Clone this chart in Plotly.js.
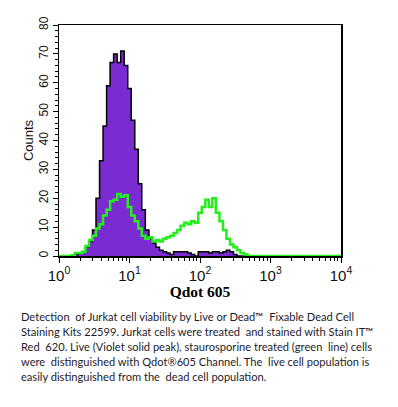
<!DOCTYPE html>
<html>
<head>
<meta charset="utf-8">
<script src="https://cdn.plot.ly/plotly-3.0.1.min.js"></script>
<style>html,body{margin:0;padding:0;background:#fff;}#chart{width:398px;height:407px;}</style>
</head>
<body>
<div id="chart"></div>
<script>
// Fluorescence channel (Qdot 605 intensity) bin positions
const channel = [1.00,1.12,1.26,1.41,1.58,1.78,2.00,2.24,2.51,2.82,3.16,3.55,3.98,4.47,5.01,5.62,6.31,7.08,7.94,8.91,
  10.0,11.2,12.6,14.1,15.8,17.8,20.0,22.4,25.1,28.2,31.6,35.5,39.8,44.7,50.1,56.2,63.1,70.8,79.4,89.1,
  100,112,126,141,158,178,200,224,251,282,316,355,398,447,501,562,631,708,794,891,1000,10000];
// Live cells (violet solid peak)
const liveCounts = [0,0,0,0,0,0.5,1,1.5,3,5,9,20,33,45,59,67,70,67,71,66,
  58,47,37,25,16,9,6,4.5,3,2,1.5,1,0.5,1.5,1.5,1.5,1.5,1,0.5,0,
  1.5,1.5,1.5,1,1.5,1.5,1,1.5,2,1.5,0.5,0,0,0,0,0,0,0,0,0,0,0];
// Staurosporine treated cells (green line)
const deadCounts = [0,0,0,0,0.3,1,1,1.5,3.5,5.5,7,9.5,11,14,16,19,19.5,21.5,20.5,21,
  17,14,12,9.5,7,6,6.5,5,5.5,5,6,6.5,7,8,9,10.5,11.5,11,12,11.5,
  15,17,19.5,17,20,15,12,9,6,4,3,2,1,0.5,0,0,0,0,0,0,0,0];

const xTickVals = [1,10,100,1000,10000];
const xTickText = ['10<sup>0</sup>','10<sup>1</sup>','10<sup>2</sup>','10<sup>3</sup>','10<sup>4</sup>'];
const xMinorVals = [2,3,4,5,6,7,8,9,20,30,40,50,60,70,80,90,200,300,400,500,600,700,800,900,2000,3000,4000,5000,6000,7000,8000,9000];

const captionLines = [
  'Detection  of Jurkat cell viability by Live or Dead\u2122  Fixable Dead Cell',
  'Staining Kits 22599. Jurkat cells were treated  and stained with Stain IT\u2122',
  'Red  620. Live (Violet solid peak), staurosporine treated (green  line) cells',
  'were  distinguished with Qdot\u00ae605 Channel. The  live cell population is',
  'easily distinguished from the  dead cell population.'
];

const traces = [
  {x: channel, y: liveCounts, type: 'scatter', mode: 'lines', line: {shape: 'hvh', color: '#000', width: 1.5},
   fill: 'tozeroy', fillcolor: '#7a2bd2', hoverinfo: 'skip'},
  {x: channel, y: deadCounts, type: 'scatter', mode: 'lines', line: {shape: 'hvh', color: '#22f01a', width: 2.5},
   hoverinfo: 'skip'}
];

const L = 59, R = 341, T = 25, B = 256;
const W = R - L, H = B - T;
const annotations = captionLines.map((t, i) => ({
  text: t, xref: 'paper', yref: 'paper', x: (19 - L) / W, y: (B - (316 + 15 * i)) / H,
  xanchor: 'left', yanchor: 'middle', showarrow: false, align: 'left',
  font: {family: 'Lato, sans-serif', size: 11.1, color: '#241c2c'}
}));

const layout = {
  width: 398, height: 407,
  margin: {l: L, r: 398 - R, t: T, b: 407 - B, pad: 0},
  paper_bgcolor: '#fff', plot_bgcolor: '#fff',
  showlegend: false,
  xaxis: {
    type: 'log', range: [0, 4], tickmode: 'array', tickvals: xTickVals, ticktext: xTickText,
    ticks: 'outside', ticklen: 5, tickwidth: 1, tickcolor: '#000',
    showline: true, linecolor: '#000', linewidth: 1.5, mirror: true,
    showgrid: false, zeroline: false,
    tickfont: {family: 'Arial, Liberation Sans, sans-serif', size: 15, color: '#111'},
    minor: {tickmode: 'array', tickvals: xMinorVals, ticks: 'outside', ticklen: 3, tickcolor: '#000', showgrid: false},
    title: {text: 'Qdot 605', font: {family: 'Liberation Serif, Times New Roman, serif', size: 15.5, color: '#000', weight: 'bold'}, standoff: 0}
  },
  yaxis: {
    range: [0, 80], dtick: 10, tick0: 0,
    ticks: 'outside', ticklen: 5, tickwidth: 1, tickcolor: '#000',
    showline: true, linecolor: '#000', linewidth: 1.5, mirror: true,
    showgrid: false, zeroline: false, tickangle: -90,
    tickfont: {family: 'Arial, Liberation Sans, sans-serif', size: 12, color: '#111'},
    minor: {dtick: 2, ticks: 'outside', ticklen: 3, tickcolor: '#000', showgrid: false},
    title: {text: 'Counts', font: {family: 'Arial, Liberation Sans, sans-serif', size: 13, color: '#111'}, standoff: 0}
  },
  annotations: annotations
};

Plotly.newPlot('chart', traces, layout, {staticPlot: true, displayModeBar: false});
</script>
</body>
</html>
